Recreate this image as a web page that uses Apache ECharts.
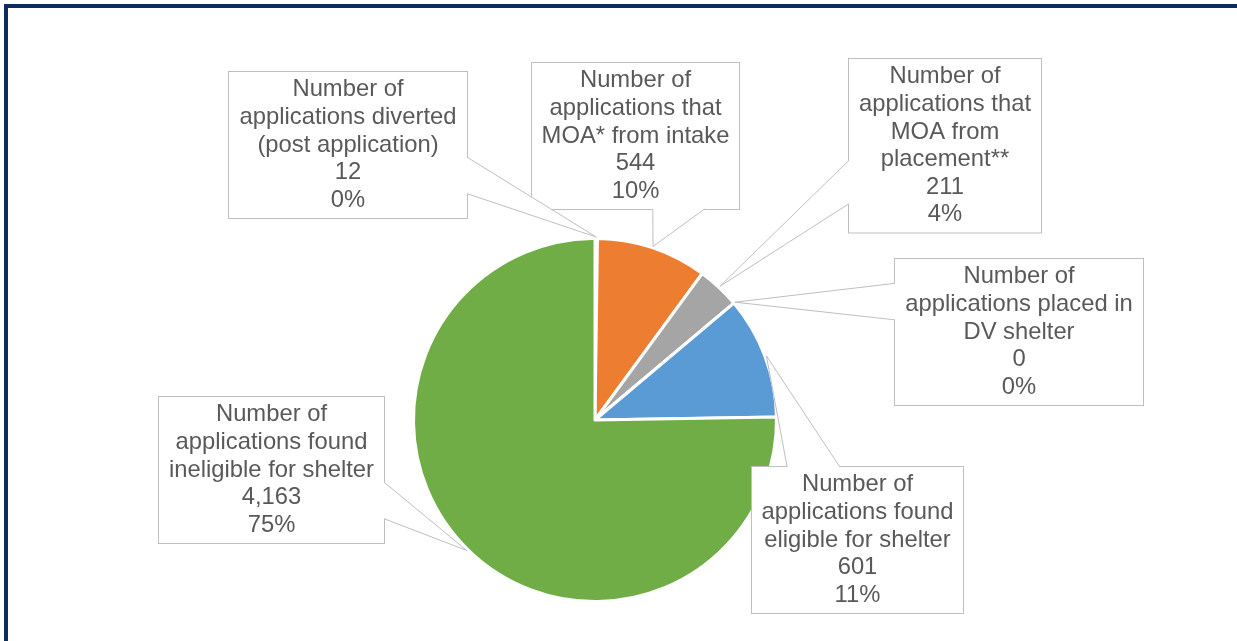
<!DOCTYPE html>
<html>
<head>
<meta charset="utf-8">
<script src="https://cdn.jsdelivr.net/npm/echarts@6/dist/echarts.min.js"></script>
<style>
  html, body { margin: 0; padding: 0; background: #fff; }
  #chart { position: absolute; left: 0; top: 0; width: 1237px; height: 641px; }
  #frame {
    position: absolute; left: 4px; top: 4px; width: 1233px; height: 637px;
    box-sizing: border-box; border-top: 4px solid #0E2A5E; border-left: 4px solid #0E2A5E;
    pointer-events: none;
  }
</style>
</head>
<body>
<div id="chart"></div>
<div id="frame"></div>
<script>
// Application outcomes
const categories = [
  'Number of\napplications diverted\n(post application)',
  'Number of\napplications that\nMOA* from intake',
  'Number of\napplications that\nMOA from\nplacement**',
  'Number of\napplications placed in\nDV shelter',
  'Number of\napplications found\neligible for shelter',
  'Number of\napplications found\nineligible for shelter'
];
const values = [12, 544, 211, 0, 601, 4163];
const colors = ['#4472C4', '#ED7D31', '#A5A5A5', '#FFC000', '#5B9BD5', '#70AD47'];

// Callout boxes: [left, top, width]; height follows the number of text lines
const calloutBoxes = [
  [229, 72, 238],
  [532, 63, 207],
  [849, 59, 192],
  [895, 259, 248],
  [752, 467, 211],
  [159, 397, 225]
];
const LINE_H = 27.6;
const PAD_TOP = 6.5;
const PAD_BOTTOM = 1.5;
const boxHeight = i => (categories[i].split('\n').length + 2) * LINE_H + PAD_TOP + PAD_BOTTOM;

const chart = echarts.init(document.getElementById('chart'), null, { renderer: 'canvas' });

const option = {
  animation: false,
  backgroundColor: '#fff',
  color: colors,
  series: [{
    type: 'pie',
    center: [595, 420],
    radius: 181.5,
    startAngle: 90,
    clockwise: true,
    percentPrecision: 0,
    avoidLabelOverlap: false,
    silent: true,
    itemStyle: { borderColor: '#fff', borderWidth: 3 },
    label: {
      show: true,
      formatter: p => p.name + '\n' + p.value.toLocaleString('en-US') + '\n' + p.percent + '%',
      color: '#595959',
      fontFamily: '"Liberation Sans", Arial, sans-serif',
      fontSize: 23.8,
      lineHeight: LINE_H,
      align: 'center',
      overflow: 'none',
      backgroundColor: '#fff',
      borderColor: '#BFBFBF',
      borderWidth: 1,
      padding: [PAD_TOP, 0, PAD_BOTTOM, 0]
    },
    labelLine: { show: false },
    labelLayout: params => {
      const b = calloutBoxes[params.dataIndex];
      return {
        x: b[0] + b[2] / 2,
        y: b[1] + boxHeight(params.dataIndex) / 2,
        align: 'center',
        verticalAlign: 'middle'
      };
    },
    data: values.map((v, i) => ({
      value: v,
      name: categories[i],
      label: { width: calloutBoxes[i][2] }
    }))
  }]
};
chart.setOption(option);

// Callout pointers: wedge from the box edge to the outer midpoint of each slice
const pieData = chart.getModel().getSeriesByIndex(0).getData();
const pointers = [];
values.forEach((v, i) => {
  const lay = pieData.getItemLayout(i);
  const mid = (lay.startAngle + lay.endAngle) / 2;
  const rr = lay.r + 1.5;
  const apex = [lay.cx + rr * Math.cos(mid), lay.cy + rr * Math.sin(mid)];
  const [L, T, W] = calloutBoxes[i];
  const H = boxHeight(i);
  const dx = apex[0] - (L + W / 2);
  const dy = apex[1] - (T + H / 2);
  const dq = dx * H / W;
  let p1, p2, q1, q2;
  if (Math.abs(dy) > Math.abs(dq)) {
    const x1 = L + W * (dx > 0 ? 7 : 2) / 12;
    const x2 = L + W * (dx > 0 ? 10 : 5) / 12;
    const ey = dy > 0 ? T + H : T;
    const inn = dy > 0 ? -2 : 2;
    p1 = [x1, ey]; p2 = [x2, ey]; q1 = [x1, ey + inn]; q2 = [x2, ey + inn];
  } else {
    const y1 = T + H * (dy > 0 ? 7 : 2) / 12;
    const y2 = T + H * (dy > 0 ? 10 : 5) / 12;
    const ex = dx > 0 ? L + W : L;
    const inn = dx > 0 ? -2 : 2;
    p1 = [ex, y1]; p2 = [ex, y2]; q1 = [ex + inn, y1]; q2 = [ex + inn, y2];
  }
  pointers.push({
    type: 'polygon', z: 100, silent: true,
    shape: { points: [q1, p1, apex, p2, q2] },
    style: { fill: '#fff', stroke: null }
  });
  pointers.push({
    type: 'polyline', z: 101, silent: true,
    shape: { points: [p1, apex, p2] },
    style: { stroke: '#BFBFBF', lineWidth: 1, fill: null }
  });
});
chart.setOption({ graphic: pointers });
</script>
</body>
</html>
